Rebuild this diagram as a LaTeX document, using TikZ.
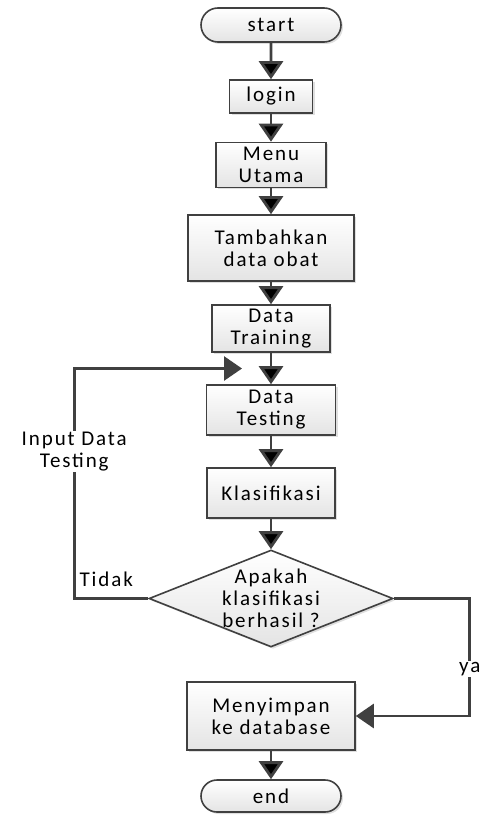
\documentclass[tikz,border=0pt]{standalone}
\usepackage{fontspec}
\setmainfont[LetterSpace=9]{Carlito}
\usetikzlibrary{positioning, calc, shapes.geometric, shapes.misc, shadows, arrows.meta}
\definecolor{lin}{HTML}{404040}
\definecolor{boxfill}{HTML}{E4E4E4}

\begin{document}
\begin{tikzpicture}[on grid, x=1pt, y=1pt,
  font=\fontsize{21}{22}\selectfont,
  box/.style={rectangle, draw=lin, line width=1.6pt, align=center, inner sep=0pt,
    top color=white, bottom color=boxfill,
    drop shadow={shadow xshift=2pt, shadow yshift=-2pt, opacity=0.25}},
  term/.style={box, rounded rectangle},
  decide/.style={box, diamond},
  flow/.style={draw=lin, line width=2.8pt, -{Triangle[width=24pt,length=18pt]}},
  lbl/.style={fill=white, inner sep=1pt, align=center}]
   \useasboundingbox (0,0) rectangle (482,-818);
   \node[term, minimum width=140pt, minimum height=34pt] (start) at (271,-25) {start};
   \node[box, minimum width=83pt, minimum height=33pt] (login) [below=71.5pt of start] {login};
   \node[box, minimum width=110pt, minimum height=45pt] (menu) [below=68.5pt of login] {Menu\\Utama};
   \node[box, minimum width=166pt, minimum height=66pt] (tambah) [below=83pt of menu] {Tambahkan\\data obat};
   \node[box, minimum width=118pt, minimum height=47pt] (train) [below=80.5pt of tambah] {Data\\Training};
   \node[box, minimum width=129pt, minimum height=50pt] (test) [below=81.5pt of train] {Data\\Testing};
   \node[box, minimum width=128pt, minimum height=50pt] (klas) [below=83pt of test] {Klasifikasi};
   \node[decide, minimum width=244pt, minimum height=97pt,
     label={[align=center]center:Apakah\\klasifikasi\\berhasil ?}] (dec) [below=105.5pt of klas] {};
   \node[box, minimum width=168pt, minimum height=68pt] (simpan) [below=117.5pt of dec] {Menyimpan\\ke database};
   \node[term, minimum width=140pt, minimum height=32pt] (end) [below=80pt of simpan] {end};

   \coordinate (mid) at ($(train.south)!.5!(test.north)$);
   \coordinate[left=29pt of mid] (back);

   \path[flow]
    (start) edge (login)
    (login) edge (menu)
    (menu) edge (tambah)
    (tambah) edge (train)
    (train) edge (test)
    (test) edge (klas)
    (klas) edge (dec)
    (simpan) edge (end);
   \draw[flow] (dec.east) -- ++(76,0) |- node[lbl, pos=0.3] {ya} (simpan.east);
   \draw[flow] (dec.west) -- ++(-74,0)
     node[anchor=south west, inner sep=0pt, xshift=4pt, yshift=10pt] {Tidak}
     |- node[lbl, pos=0.32] {Input Data\\Testing} (back);
\end{tikzpicture}
\end{document}
